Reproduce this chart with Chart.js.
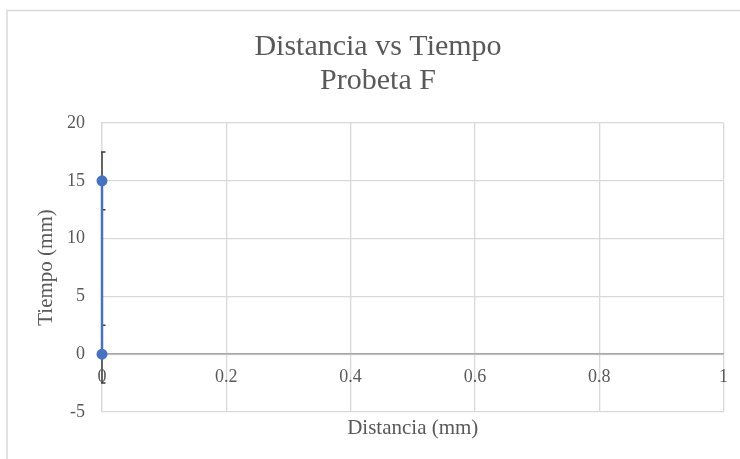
<!DOCTYPE html>
<html>
<head>
<meta charset="utf-8">
<script src="https://cdn.jsdelivr.net/npm/chart.js@4/dist/chart.umd.min.js"></script>
<style>
  html, body { margin: 0; padding: 0; background: #ffffff; }
  #wrap { width: 740px; height: 459px; position: relative; overflow: hidden; }
</style>
</head>
<body>
<div id="wrap"><canvas id="chart" width="740" height="459"></canvas></div>
<script>
// Measured points for sample F
const distancia = [0, 0];
const tiempo = [0, 15];
const errorTiempo = [2.5, 2.5];

const titulo = ['Distancia vs Tiempo', 'Probeta F'];
const tituloX = 'Distancia (mm)';
const tituloY = 'Tiempo (mm)';
const xTicks = [0, 0.2, 0.4, 0.6, 0.8, 1];
const yTicks = [-5, 0, 5, 10, 15, 20];

const serif = "'Liberation Serif', 'Times New Roman', serif";
const gris = '#595959';
const fmt = v => String(Number(v.toFixed(2)));

// Light frame around the whole chart
const frame = {
  id: 'frame',
  beforeDraw(chart) {
    const ctx = chart.ctx;
    ctx.save();
    ctx.strokeStyle = '#d9d9d9';
    ctx.lineWidth = 1.5;
    ctx.strokeRect(7, 10.5, 800, 500);
    ctx.restore();
  }
};

// Vertical error bars drawn under the series line
const errorBars = {
  id: 'errorBars',
  beforeDatasetsDraw(chart) {
    const ctx = chart.ctx;
    const xs = chart.scales.x, ys = chart.scales.y;
    ctx.save();
    ctx.strokeStyle = '#3a3a3a';
    ctx.lineWidth = 1.5;
    distancia.forEach((d, i) => {
      const px = xs.getPixelForValue(d);
      const top = ys.getPixelForValue(tiempo[i] + errorTiempo[i]);
      const bot = ys.getPixelForValue(tiempo[i] - errorTiempo[i]);
      ctx.beginPath();
      ctx.moveTo(px, top); ctx.lineTo(px, bot);
      ctx.moveTo(px - 1, top); ctx.lineTo(px + 3.5, top);
      ctx.moveTo(px - 1, bot); ctx.lineTo(px + 3.5, bot);
      ctx.stroke();
    });
    ctx.restore();
  }
};

new Chart(document.getElementById('chart'), {
  type: 'scatter',
  data: {
    datasets: [{
      data: distancia.map((d, i) => ({ x: d, y: tiempo[i] })),
      showLine: true,
      clip: false,
      borderColor: '#4472C4',
      backgroundColor: '#4472C4',
      borderWidth: 2.5,
      pointRadius: 5.5,
      pointHoverRadius: 5.5,
      pointBorderWidth: 0,
      xAxisID: 'x',
      yAxisID: 'y'
    }]
  },
  options: {
    responsive: false,
    animation: false,
    layout: { padding: { left: 32, right: 16, top: 0, bottom: 0 } },
    plugins: {
      legend: { display: false },
      tooltip: { enabled: false },
      title: {
        display: true,
        text: titulo,
        color: gris,
        font: { family: serif, size: 30, weight: 'normal', lineHeight: 1.133 },
        padding: { top: 30, bottom: 25 }
      }
    },
    scales: {
      x: {
        type: 'linear',
        position: 'bottom',
        min: 0, max: 1,
        afterBuildTicks(s) { s.ticks = xTicks.map(v => ({ value: v })); },
        afterFit(s) { s.height = 47; },
        ticks: { display: false },
        grid: { color: '#d9d9d9', lineWidth: 1.3, drawTicks: false },
        border: { display: false },
        title: {
          display: true, text: tituloX, color: gris,
          font: { family: serif, size: 21, lineHeight: 1.2 },
          padding: { top: 2, bottom: 18 }
        }
      },
      x2: {
        type: 'linear',
        position: { y: 0 },
        min: 0, max: 1,
        afterBuildTicks(s) { s.ticks = xTicks.map(v => ({ value: v })); },
        ticks: { color: gris, font: { family: serif, size: 18 }, padding: 12, maxRotation: 0, callback: fmt },
        grid: { display: false, drawTicks: false },
        border: { display: true, color: '#a6a6a6', width: 1.5 }
      },
      y: {
        type: 'linear',
        position: 'left',
        min: -5, max: 20,
        afterBuildTicks(s) { s.ticks = yTicks.map(v => ({ value: v })); },
        afterFit(s) { s.width = 70; },
        ticks: { color: gris, font: { family: serif, size: 18 }, padding: 17, callback: fmt },
        grid: { color: '#d9d9d9', lineWidth: 1.3, drawTicks: false },
        border: { color: '#d9d9d9', width: 1.3 },
        title: {
          display: true, text: tituloY, color: gris,
          font: { family: serif, size: 21, lineHeight: 1.2 },
          padding: { top: 2, bottom: 0 }
        }
      }
    }
  },
  plugins: [frame, errorBars]
});
</script>
</body>
</html>
